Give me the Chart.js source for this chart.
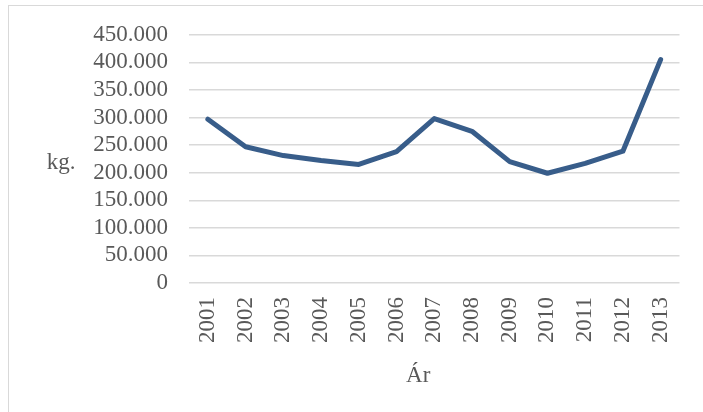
<!DOCTYPE html>
<html>
<head>
<meta charset="utf-8">
<script src="https://cdn.jsdelivr.net/npm/chart.js@4/dist/chart.umd.min.js"></script>
<style>
  html, body { margin: 0; padding: 0; background: #ffffff; }
  #wrap { position: relative; width: 703px; height: 412px; }
  #frame { position: absolute; left: 8px; top: 5px; right: -2px; bottom: -2px; border-left: 1.5px solid #d9d9d9; border-top: 1.5px solid #d9d9d9; }
  canvas { position: absolute; left: 0; top: 0; }
</style>
</head>
<body>
<div id="wrap">
  <div id="frame"></div>
  <canvas id="c" width="703" height="412"></canvas>
</div>
<script>
// Yearly quantity in kilograms
const years = ['2001','2002','2003','2004','2005','2006','2007','2008','2009','2010','2011','2012','2013'];
const kilograms = [297000, 247000, 231000, 222000, 215000, 238000, 298000, 275000, 220000, 199000, 217000, 239000, 405000];
const yTicks = [0, 50000, 100000, 150000, 200000, 250000, 300000, 350000, 400000, 450000];

const FONT = '"Liberation Serif", "Times New Roman", serif';
const TEXT = '#595959';

function fmt(v) {
  return String(v).replace(/\B(?=(\d{3})+(?!\d))/g, '.');
}

// Horizontal axis captions ("kg." beside the value axis, "Ár" under the years)
const captions = {
  id: 'captions',
  afterDraw(chart) {
    const ctx = chart.ctx;
    const area = chart.chartArea;
    ctx.save();
    ctx.fillStyle = TEXT;
    ctx.font = '23px ' + FONT;
    ctx.textAlign = 'center';
    ctx.textBaseline = 'middle';
    ctx.fillText('kg.', 61, (area.top + area.bottom) / 2 + 4);
    ctx.fillText('Ár', (area.left + area.right) / 2 - 16, 376);
    ctx.restore();
  }
};

new Chart(document.getElementById('c'), {
  type: 'line',
  data: {
    labels: years,
    datasets: [{
      data: kilograms,
      borderColor: '#385d8a',
      borderWidth: 5,
      borderCapStyle: 'round',
      borderJoinStyle: 'round',
      pointRadius: 0,
      pointHoverRadius: 0,
      tension: 0,
      fill: false
    }]
  },
  options: {
    responsive: false,
    animation: false,
    layout: { padding: { top: 34, right: 20, bottom: 0, left: 0 } },
    plugins: { legend: { display: false }, tooltip: { enabled: false } },
    scales: {
      x: {
        offset: true,
        grid: { display: false, drawTicks: false },
        border: { display: false },
        afterFit(scale) { scale.height = 129; },
        ticks: {
          color: TEXT,
          font: { family: FONT, size: 23 },
          minRotation: 90,
          maxRotation: 90,
          padding: 14,
          autoSkip: false
        }
      },
      y: {
        min: 0,
        max: 450000,
        afterFit(scale) { scale.width = 189; },
        afterBuildTicks(scale) { scale.ticks = yTicks.map(v => ({ value: v })); },
        grid: { color: '#d9d9d9', lineWidth: 1.5, drawTicks: false },
        border: { display: false },
        ticks: {
          color: TEXT,
          font: { family: FONT, size: 23 },
          padding: 21,
          autoSkip: false,
          callback: v => fmt(v)
        }
      }
    }
  },
  plugins: [captions]
});
</script>
</body>
</html>
